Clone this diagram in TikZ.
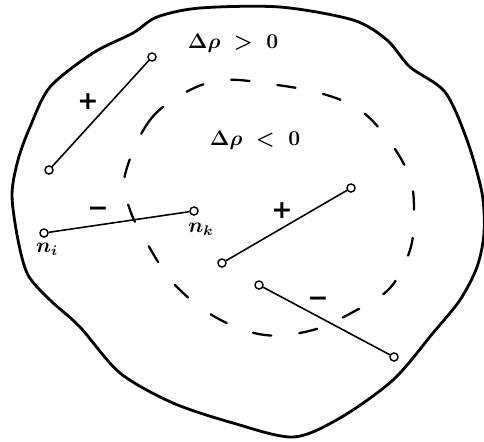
\documentclass[tikz,border=0pt]{standalone}
\usepackage{amsmath,amssymb}
\usepackage{fontspec}
\usepackage{xcolor}
\usepackage{tikz}
\usetikzlibrary{arrows.meta,positioning,calc}
\newfontfamily\signfont{DejaVu Sans}

\begin{document}
\begin{tikzpicture}[
  x=0.02cm, y=-0.02cm,
  site/.style={circle, draw, line width=0.8pt, fill=white, inner sep=0pt, minimum size=4.6pt},
  bond/.style={line width=0.9pt},
  sign/.style={font=\signfont\bfseries\Large, inner sep=1pt},
  lab/.style={font=\large\boldmath, inner sep=1pt},
  rim/.style={line width=1.6pt, line join=round},
  shell/.style={line width=1.3pt, dash pattern=on 10.5pt off 16pt, line cap=round}
]
\useasboundingbox (0,0) rectangle (484,441);
\draw[rim] plot[smooth cycle, tension=0.5] coordinates {
  (30,127) (50,87) (93,53) (133,33) (157,17) (200,8) (280,7) (353,20) (387,40)
  (410,67) (445,92) (467,140) (482,193) (484,233) (477,267) (460,300) (433,333)
  (393,380) (340,418) (293,437) (233,423) (173,403) (120,373) (80,327) (50,300)
  (28,275) (18,240) (12,195) (18,160)};
\draw[shell] plot[smooth cycle, tension=0.6] coordinates {
  (125,175) (150,120) (190,90) (227,80) (270,84) (320,93) (360,110) (390,142)
  (410,178) (414,213) (410,250) (390,288) (353,312) (313,330) (265,335) (217,318)
  (175,285) (148,245) (130,210)};
\node[lab] (outer) at (233,43) {$\Delta\rho\;>\;0$};
\node[lab] (inner) at (255,140) {$\Delta\rho\;<\;0$};
\node[site] (ua) at (49,170) {};
\node[site] (ub) at (152,57) {};
\node[site] (ni) at (44,233) {};
\node[site] (nk) at (194,211) {};
\node[site] (va) at (222,263) {};
\node[site] (vb) at (351,188) {};
\node[site] (wa) at (259,285) {};
\node[site] (wb) at (394,357) {};
\draw[bond] (ua) -- (ub);
\draw[bond] (ni) -- (nk);
\draw[bond] (va) -- (vb);
\draw[bond] (wa) -- (wb);
\node[sign] (su) at (88,102) {+};
\node[sign] (sn) at (98,212) {−};
\node[sign] (sv) at (282,211) {+};
\node[sign] (sw) at (318,302) {−};
\node[lab] (li) at (47,249) {$n_i$};
\node[lab] (lk) at (201,229) {$n_k$};
\end{tikzpicture}
\end{document}
